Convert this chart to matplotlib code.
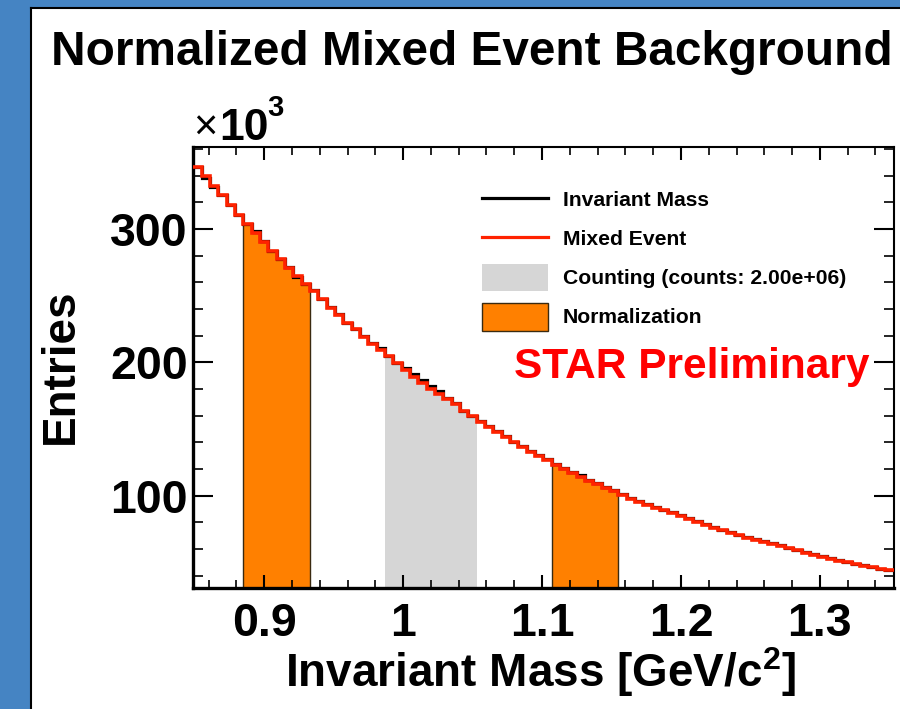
import numpy as np
import matplotlib
matplotlib.use("Agg")
import matplotlib.pyplot as plt
from matplotlib.lines import Line2D
from matplotlib.patches import Rectangle

# Histogram binning (GeV/c^2)
mass_lo, mass_hi, n_bins = 0.849, 1.353, 84

# Normalized mixed-event background, entries per bin (x 10^3)
mixed_k = [
    346.7, 340.0, 332.5, 325.5, 318.0, 310.5, 303.5, 297.3, 290.5, 283.5,
    277.3, 271.0, 264.8, 258.5, 253.7, 247.3, 241.0, 235.3, 229.3, 224.8,
    219.3, 213.8, 209.3, 204.8, 199.3, 194.3, 189.3, 184.3, 180.0, 176.5,
    172.2, 168.5, 163.5, 159.5, 155.5, 151.8, 147.8, 143.8, 140.0, 136.5,
    133.0, 129.8, 126.5, 123.3, 120.2, 117.2, 114.3, 111.4, 108.6, 105.9,
    103.3, 100.3, 97.8, 95.5, 93.2, 91.1, 89.0, 86.9, 84.8, 82.5,
    80.3, 78.1, 76.0, 74.0, 72.2, 70.4, 68.6, 66.9, 65.3, 63.8,
    62.2, 60.6, 59.0, 57.4, 55.8, 54.3, 52.8, 51.4, 50.0, 48.7,
    47.4, 46.2, 45.1, 44.2,
]

# Same-event invariant mass, entries per bin (x 10^3)
same_k = [
    346.2, 338.5, 331.5, 325.5, 318.3, 310.8, 304.0, 298.3, 290.8, 283.2,
    277.5, 271.5, 264.3, 258.8, 254.2, 247.6, 241.5, 236.1, 229.8, 225.1,
    219.8, 214.6, 210.5, 204.9, 199.8, 195.5, 191.0, 186.5, 182.0, 178.4,
    173.6, 169.3, 163.8, 159.6, 156.2, 152.4, 148.5, 144.6, 140.6, 137.2,
    133.9, 130.4, 127.3, 124.0, 120.9, 117.8, 115.2, 112.1, 109.5, 106.4,
    104.0, 101.0, 98.4, 96.1, 93.8, 91.6, 89.6, 87.5, 85.3, 83.2,
    80.8, 78.7, 76.6, 74.5, 72.8, 70.9, 69.1, 67.5, 65.7, 64.3,
    62.7, 61.1, 59.5, 57.8, 56.3, 54.7, 53.2, 51.8, 50.4, 49.0,
    47.8, 46.5, 45.4, 44.5,
]

# Bin ranges [first, last) of the side-band and counting windows
norm_left_bins = (6, 14)
count_bins = (23, 34)
norm_right_bins = (43, 51)

x_ticks = [0.9, 1.0, 1.1, 1.2, 1.3]
x_tick_labels = ["0.9", "1", "1.1", "1.2", "1.3"]
y_ticks = [100, 200, 300]
y_tick_labels = ["100", "200", "300"]
y_range = (30.8, 361.5)

FONT = "Liberation Sans"
RED = "#ff2200"
ORANGE = "#ff8000"
GRAY = "#d6d6d6"
BLUE = "#4584c3"
EDGE = "#3a2a10"

plt.rcParams["font.family"] = [FONT, "DejaVu Sans"]
plt.rcParams["mathtext.fontset"] = "custom"
plt.rcParams["mathtext.rm"] = FONT + ":bold"
plt.rcParams["mathtext.default"] = "rm"

W, H = 900, 709
fig = plt.figure(figsize=(W / 100, H / 100), dpi=100)
fig.patch.set_facecolor("white")


def fx(px):
    return px / W


def fy(py):
    return (H - py) / H


# Slide frame: blue strips on the left and top with a dark edge
fig.patches.append(Rectangle((0, 0), fx(30), 1, transform=fig.transFigure,
                             facecolor=BLUE, edgecolor="none", zorder=0))
fig.patches.append(Rectangle((0, fy(7)), 1, 7 / H, transform=fig.transFigure,
                             facecolor=BLUE, edgecolor="none", zorder=0))
fig.lines.append(Line2D([fx(31), fx(31)], [0, fy(7.5)], transform=fig.transFigure,
                        color="black", lw=1.5))
fig.lines.append(Line2D([fx(31), 1], [fy(8), fy(8)], transform=fig.transFigure,
                        color="black", lw=1.5))

ax = fig.add_axes([fx(193.3), fy(588), 700.2 / W, 441 / H])

edges = np.linspace(mass_lo, mass_hi, n_bins + 1)
mixed = np.array(mixed_k)
same = np.array(same_k)

for a, b in (norm_left_bins, norm_right_bins):
    ax.stairs(mixed[a:b], edges[a:b + 1], fill=True, baseline=0,
              facecolor=ORANGE, edgecolor=EDGE, linewidth=1.0, zorder=1)
a, b = count_bins
ax.stairs(same[a:b], edges[a:b + 1], fill=True, baseline=0,
          facecolor=GRAY, edgecolor="none", linewidth=0, zorder=1)

ax.stairs(same, edges, baseline=None, color="black", linewidth=2.3, zorder=3)
ax.stairs(mixed, edges, baseline=None, color=RED, linewidth=2.6, zorder=4)

ax.set_xlim(mass_lo, mass_hi)
ax.set_ylim(*y_range)

ax.set_xticks(x_ticks)
ax.set_xticklabels(x_tick_labels)
ax.set_xticks(np.arange(0.86, 1.351, 0.02), minor=True)
ax.set_yticks(y_ticks)
ax.set_yticklabels(y_tick_labels)
ax.set_yticks(np.arange(40, 361, 20), minor=True)

for lbl in ax.get_xticklabels() + ax.get_yticklabels():
    lbl.set_fontweight("bold")
    lbl.set_fontsize(33.5)

ax.tick_params(axis="both", which="both", direction="in", top=True, right=True)
ax.tick_params(axis="y", which="major", length=14.4, width=1.5, pad=4)
ax.tick_params(axis="y", which="minor", length=7.2, width=1.2)
ax.tick_params(axis="x", which="major", length=9.4, width=1.5, pad=10)
ax.tick_params(axis="x", which="minor", length=5.8, width=1.2)

for side in ("left", "bottom"):
    ax.spines[side].set_linewidth(2.4)
for side in ("top", "right"):
    ax.spines[side].set_linewidth(1.5)

# Counts in the counting window
counts = same[a:b].sum() * 1e3

# Legend, drawn entry by entry
leg_x0, leg_x1, leg_tx = 482, 548, 563
leg_font = dict(fontsize=15.2, fontweight="bold", ha="left", va="baseline")
fig.lines.append(Line2D([fx(leg_x0), fx(leg_x1)], [fy(198), fy(198)],
                        transform=fig.transFigure, color="black", lw=2.3))
fig.text(fx(leg_tx), fy(206), "Invariant Mass", **leg_font)
fig.lines.append(Line2D([fx(leg_x0), fx(leg_x1)], [fy(237), fy(237)],
                        transform=fig.transFigure, color=RED, lw=2.3))
fig.text(fx(leg_tx), fy(245), "Mixed Event", **leg_font)
fig.patches.append(Rectangle((fx(leg_x0), fy(291)), (leg_x1 - leg_x0) / W, 27 / H,
                             transform=fig.transFigure, facecolor=GRAY,
                             edgecolor="none"))
fig.text(fx(leg_tx), fy(284), f"Counting (counts: {counts:.2e})", **leg_font)
fig.patches.append(Rectangle((fx(leg_x0), fy(331)), (leg_x1 - leg_x0) / W, 28 / H,
                             transform=fig.transFigure, facecolor=ORANGE,
                             edgecolor=EDGE, linewidth=1.0))
fig.text(fx(leg_tx), fy(323), "Normalization", **leg_font)

ax.text(0.9664, 0.50, "STAR Preliminary", transform=ax.transAxes,
        ha="right", va="center", color="#ff0000", fontsize=30.5,
        fontweight="bold")

fig.text(fx(472), fy(65), "Normalized Mixed Event Background",
         ha="center", va="baseline", fontsize=34.4, fontweight="bold")

# Axis scale factor
fig.text(fx(193), fy(140), "×", ha="left", va="baseline", fontsize=30)
fig.text(fx(219), fy(140), "10", ha="left", va="baseline",
         fontsize=32, fontweight="bold")
fig.text(fx(267), fy(116), "3", ha="left", va="baseline",
         fontsize=21, fontweight="bold")

fig.text(fx(540), fy(687), r"Invariant Mass [GeV/c$^{2}$]",
         ha="center", va="baseline", fontsize=33, fontweight="bold")
fig.text(fx(61), fy(366), "Entries", rotation=90,
         ha="center", va="center", fontsize=33, fontweight="bold")

fig.savefig("out.png", dpi=100, facecolor=fig.get_facecolor())
